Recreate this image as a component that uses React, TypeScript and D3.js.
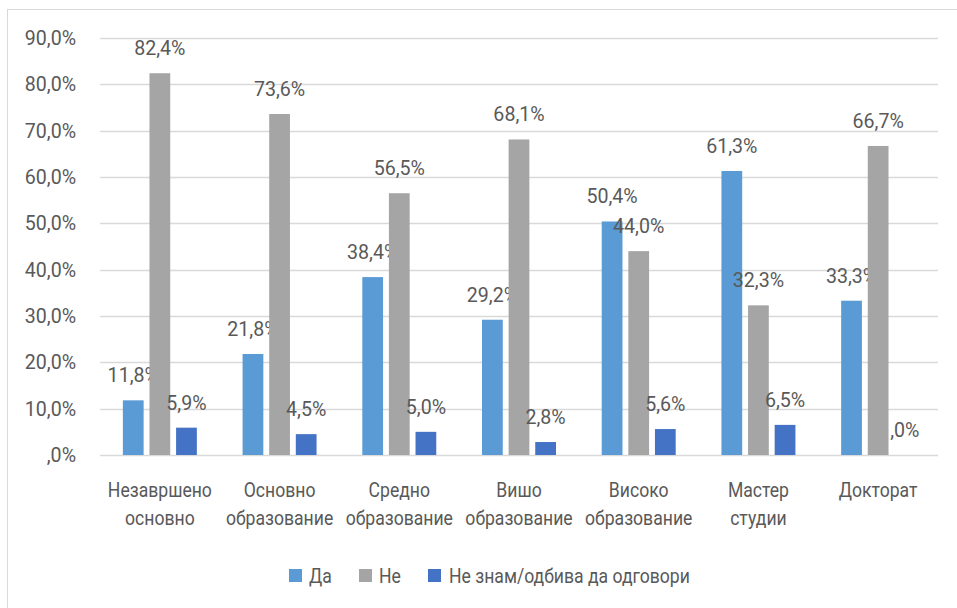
import React from "react";
import * as d3 from "d3";

const categories: string[][] = [
  ["Незавршено", "основно"],
  ["Основно", "образование"],
  ["Средно", "образование"],
  ["Вишо", "образование"],
  ["Високо", "образование"],
  ["Мастер", "студии"],
  ["Докторат"],
];
const seriesNames = ["Да", "Не", "Не знам/одбива да одговори"];
const seriesColors = ["#5B9BD5", "#A5A5A5", "#4472C4"];
const da = [11.8, 21.8, 38.4, 29.2, 50.4, 61.3, 33.3];
const ne = [82.4, 73.6, 56.5, 68.1, 44.0, 32.3, 66.7];
const neZnam = [5.9, 4.5, 5.0, 2.8, 5.6, 6.5, 0.0];
const yTicks = [0, 10, 20, 30, 40, 50, 60, 70, 80, 90];

const FONT = "Roboto, 'Noto Sans', sans-serif";
const TEXT = "#595959";
const GRID = "#D9D9D9";

const fmt = (v: number) => (v === 0 ? ",0%" : v.toFixed(1).replace(".", ",") + "%");

function T(props: { x: number; y: number; sx: number; anchor?: "start" | "middle" | "end"; children: React.ReactNode }) {
  return (
    <text
      transform={`translate(${props.x},${props.y}) scale(${props.sx},1)`}
      dy="0.35em"
      textAnchor={props.anchor || "start"}
      fontSize={20}
      fill={TEXT}
    >
      {props.children}
    </text>
  );
}

export default function App() {
  const W = 957;
  const H = 608;
  const left = 100;
  const right = 938;
  const y0 = 455;
  const yTop = 38;
  const series = [da, ne, neZnam];
  const catKeys = categories.map((c) => c.join(" "));

  const x = d3.scaleBand<string>().domain(catKeys).range([left, right]).paddingInner(0.382).paddingOuter(0.191);
  const xs = d3.scaleBand<number>().domain([0, 1, 2]).range([0, x.bandwidth()]).paddingInner(0.22);
  const y = d3.scaleLinear().domain([0, 90]).range([y0, yTop]);

  const legendItems = [
    { sx: 289, tx: 309 },
    { sx: 359, tx: 379 },
    { sx: 428, tx: 449 },
  ];

  return (
    <svg width={W} height={H} style={{ position: "absolute", left: 0, top: 0, background: "#fff" }} fontFamily={FONT}>
      <rect x={7.5} y={9.5} width={W + 10} height={H + 10} fill="#fff" stroke={GRID} strokeWidth={1} />
      {yTicks.map((t) => (
        <g key={t}>
          <line x1={left} x2={right} y1={Math.round(y(t)) + 0.5} y2={Math.round(y(t)) + 0.5} stroke={GRID} strokeWidth={1.3} />
          <T x={76} y={y(t)} sx={0.98} anchor="end">
            {fmt(t)}
          </T>
        </g>
      ))}
      {catKeys.map((k, ci) => (
        <g key={k}>
          {series.map((s, si) => {
            const bx = (x(k) as number) + (xs(si) as number);
            const v = s[ci];
            return (
              <g key={si}>
                <rect x={bx} y={y(v)} width={xs.bandwidth()} height={y0 - y(v)} fill={seriesColors[si]} />
                <T x={bx + xs.bandwidth() / 2} y={y(v) - 25} sx={0.98} anchor="middle">
                  {fmt(v)}
                </T>
              </g>
            );
          })}
          {categories[ci].map((line, li) => (
            <T key={li} x={(x(k) as number) + x.bandwidth() / 2} y={490 + li * 28} sx={0.88} anchor="middle">
              {line}
            </T>
          ))}
        </g>
      ))}
      {seriesNames.map((n, i) => (
        <g key={n}>
          <rect x={legendItems[i].sx} y={569} width={13} height={13} fill={seriesColors[i]} />
          <T x={legendItems[i].tx} y={575.5} sx={0.88}>
            {n}
          </T>
        </g>
      ))}
    </svg>
  );
}
